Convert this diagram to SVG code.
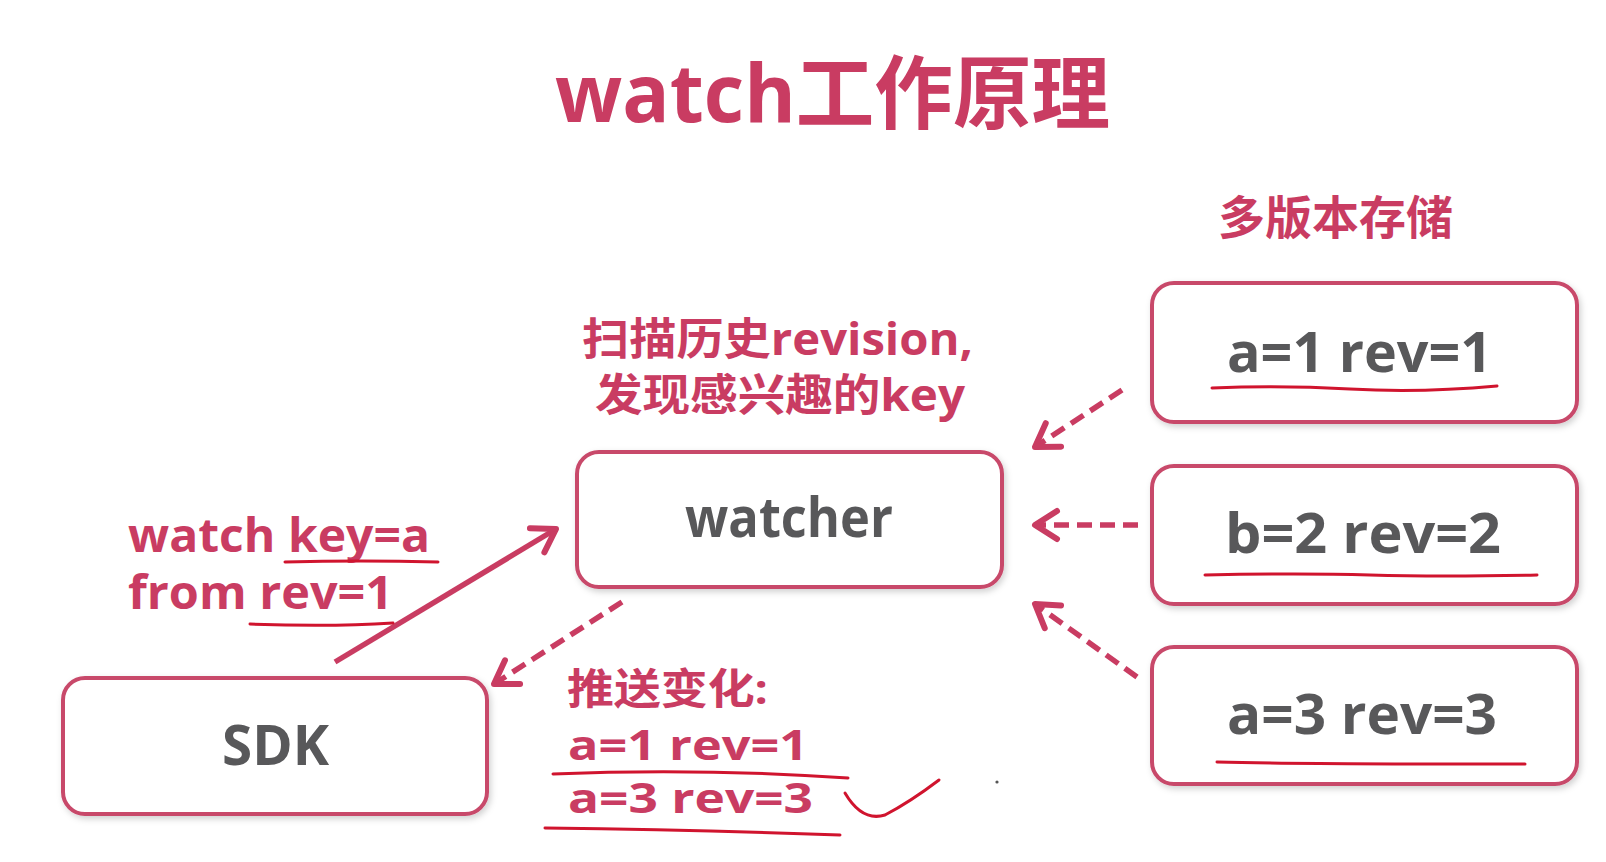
<svg xmlns="http://www.w3.org/2000/svg" width="1606" height="862" viewBox="0 0 1606 862">
<style>
.box{fill:#fff;stroke:#c8486a;stroke-width:4}
.nt{font-family:"Open Sans","Noto Sans CJK SC",sans-serif;font-weight:bold;fill:#58585a}
.pk{font-family:"Open Sans","Noto Sans CJK SC",sans-serif;font-weight:bold;fill:#c93c62}
.con{fill:none;stroke:#c93c62;stroke-width:5.5}
.dash{stroke-dasharray:15 8}
.ul{fill:none;stroke:#d0142e;stroke-width:3;stroke-linecap:round}
</style>
<defs>
<filter id="sh" x="-10%" y="-10%" width="120%" height="130%">
<feDropShadow dx="2" dy="3" stdDeviation="3" flood-color="#000" flood-opacity="0.18"/>
</filter>
<marker id="ah" markerUnits="userSpaceOnUse" markerWidth="50" markerHeight="50" viewBox="-30 -25 36 50" refX="0" refY="0" orient="auto">
<path d="M-22,-14 L0,0 L-22,14" fill="none" stroke="#c93c62" stroke-width="6" stroke-linecap="round" stroke-linejoin="round"/>
</marker>
</defs>
<rect width="1606" height="862" fill="#fff"/>
<text class="pk" x="555" y="122" font-size="80" textLength="555" lengthAdjust="spacingAndGlyphs">watch工作原理</text>
<text class="pk" x="1218" y="234" font-size="46" textLength="235" lengthAdjust="spacingAndGlyphs">多版本存储</text>
<text class="pk" x="582" y="355" font-size="44" textLength="391" lengthAdjust="spacingAndGlyphs">扫描历史revision,</text>
<text class="pk" x="595" y="411" font-size="44" textLength="370" lengthAdjust="spacingAndGlyphs">发现感兴趣的key</text>
<text class="pk" x="128" y="552" font-size="46" textLength="302" lengthAdjust="spacingAndGlyphs">watch key=a</text>
<text class="pk" x="128" y="609" font-size="46" textLength="265" lengthAdjust="spacingAndGlyphs">from rev=1</text>
<text class="pk" x="567" y="704" font-size="42" textLength="201" lengthAdjust="spacingAndGlyphs">推送变化:</text>
<text class="pk" x="568" y="760" font-size="41" textLength="240" lengthAdjust="spacingAndGlyphs">a=1 rev=1</text>
<text class="pk" x="568" y="813" font-size="41" textLength="245" lengthAdjust="spacingAndGlyphs">a=3 rev=3</text>
<g id="watcher">
<rect class="box" filter="url(#sh)" x="577" y="452" width="425" height="135" rx="22"/>
<text class="nt" x="685" y="537" font-size="56" textLength="208" lengthAdjust="spacingAndGlyphs">watcher</text>
</g>
<g id="sdk">
<rect class="box" filter="url(#sh)" x="63" y="678" width="424" height="136" rx="22"/>
<text class="nt" x="222" y="765" font-size="56" textLength="107" lengthAdjust="spacingAndGlyphs">SDK</text>
</g>
<g id="kv1">
<rect class="box" filter="url(#sh)" x="1152" y="283" width="425" height="139" rx="22"/>
<text class="nt" x="1227" y="372" font-size="56" textLength="265" lengthAdjust="spacingAndGlyphs">a=1 rev=1</text>
</g>
<g id="kv2">
<rect class="box" filter="url(#sh)" x="1152" y="466" width="425" height="138" rx="22"/>
<text class="nt" x="1225" y="553" font-size="56" textLength="276" lengthAdjust="spacingAndGlyphs">b=2 rev=2</text>
</g>
<g id="kv3">
<rect class="box" filter="url(#sh)" x="1152" y="647" width="425" height="137" rx="22"/>
<text class="nt" x="1227" y="734" font-size="56" textLength="270" lengthAdjust="spacingAndGlyphs">a=3 rev=3</text>
</g>
<g id="connectors">
<line class="con" x1="335" y1="662" x2="556" y2="529" marker-end="url(#ah)"/>
<line class="con dash" x1="622" y1="602" x2="494" y2="684" marker-end="url(#ah)"/>
<line class="con dash" x1="1122" y1="390" x2="1035" y2="447" marker-end="url(#ah)"/>
<line class="con dash" x1="1138" y1="525" x2="1035" y2="525" marker-end="url(#ah)"/>
<line class="con dash" x1="1137" y1="677" x2="1035" y2="604" marker-end="url(#ah)"/>
</g>
<g id="annotations">
<path class="ul" d="M1212,388 Q1280,385 1350,389 T1497,386"/>
<path class="ul" d="M1205,575 Q1300,573 1370,575 T1537,575"/>
<path class="ul" d="M1217,762 Q1300,764 1525,764"/>
<path class="ul" d="M285,562 Q360,560 438,562"/>
<path class="ul" d="M250,624 Q330,627 393,623"/>
<path class="ul" d="M553,774 Q700,768 848,778"/>
<path class="ul" d="M545,828 Q700,830 840,835"/>
<path class="ul" d="M845,793 Q862,822 885,815 Q910,802 939,780"/>
<circle cx="997" cy="782" r="1.6" fill="#555"/>
</g>
</svg>
